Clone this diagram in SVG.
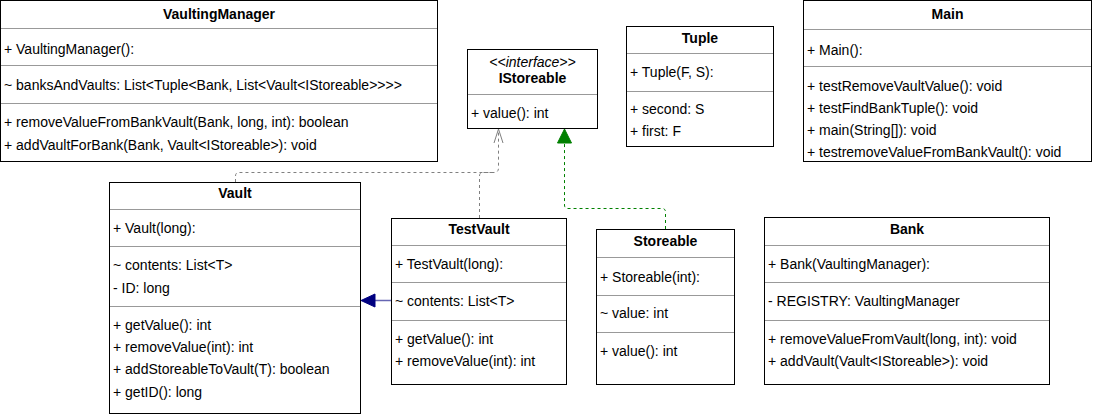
<svg xmlns="http://www.w3.org/2000/svg" width="1093" height="415" viewBox="0 0 1093 415">
<style>
text{font-family:"Liberation Sans",Arial,Helvetica,sans-serif;font-size:14px;fill:#000;dominant-baseline:central}
.t{font-weight:bold;text-anchor:middle}
.i{font-style:italic;text-anchor:middle}
.box{fill:#fff;stroke:#000;stroke-width:1}
.sep{stroke:#999;stroke-width:1}
.dg{fill:none;stroke:#808080;stroke-width:1;stroke-dasharray:3 3}
.dgr{fill:none;stroke:#008000;stroke-width:1;stroke-dasharray:3 3}
</style>
<defs>
<marker id="open" markerWidth="16" markerHeight="12" refX="15" refY="6" orient="auto" markerUnits="userSpaceOnUse" viewBox="0 0 16 12"><path d="M1,1.5 L15,6 L1,10.5" fill="none" stroke="#808080" stroke-width="1"/></marker>
</defs>
<rect width="1093" height="415" fill="#fff"/>
<g id="VaultingManager">
<rect class="box" x="0.5" y="0.5" width="437" height="161"/>
<line class="sep" x1="1" y1="28.5" x2="437" y2="28.5"/>
<line class="sep" x1="1" y1="65.5" x2="437" y2="65.5"/>
<line class="sep" x1="1" y1="103.5" x2="437" y2="103.5"/>
<text class="t" x="219" y="14">VaultingManager</text>
<text x="4" y="49">+ VaultingManager():</text>
<text x="4" y="85">~ banksAndVaults: List&lt;Tuple&lt;Bank, List&lt;Vault&lt;IStoreable&gt;&gt;&gt;&gt;</text>
<text x="4" y="122">+ removeValueFromBankVault(Bank, long, int): boolean</text>
<text x="4" y="145">+ addVaultForBank(Bank, Vault&lt;IStoreable&gt;): void</text>
</g>
<g id="IStoreable">
<rect class="box" x="467.5" y="49.5" width="130" height="79"/>
<line class="sep" x1="468" y1="94.5" x2="597" y2="94.5"/>
<text class="i" x="532.5" y="62">&lt;&lt;interface&gt;&gt;</text>
<text class="t" x="532.5" y="78">IStoreable</text>
<text x="471" y="113">+ value(): int</text>
</g>
<g id="Tuple">
<rect class="box" x="626.5" y="26.5" width="147" height="120"/>
<line class="sep" x1="627" y1="53.5" x2="773" y2="53.5"/>
<line class="sep" x1="627" y1="91.5" x2="773" y2="91.5"/>
<text class="t" x="700" y="38">Tuple</text>
<text x="630" y="72">+ Tuple(F, S):</text>
<text x="630" y="109">+ second: S</text>
<text x="630" y="131">+ first: F</text>
</g>
<g id="Main">
<rect class="box" x="803.5" y="0.5" width="288" height="161"/>
<line class="sep" x1="804" y1="29.5" x2="1091" y2="29.5"/>
<line class="sep" x1="804" y1="66.5" x2="1091" y2="66.5"/>
<text class="t" x="947.5" y="14">Main</text>
<text x="807" y="50">+ Main():</text>
<text x="807" y="86">+ testRemoveVaultValue(): void</text>
<text x="807" y="108">+ testFindBankTuple(): void</text>
<text x="807" y="130">+ main(String[]): void</text>
<text x="807" y="152">+ testremoveValueFromBankVault(): void</text>
</g>
<g id="Vault">
<rect class="box" x="109.5" y="182.5" width="251" height="231"/>
<line class="sep" x1="110" y1="209.5" x2="360" y2="209.5"/>
<line class="sep" x1="110" y1="246.5" x2="360" y2="246.5"/>
<line class="sep" x1="110" y1="306.5" x2="360" y2="306.5"/>
<text class="t" x="235" y="193">Vault</text>
<text x="113" y="228">+ Vault(long):</text>
<text x="113" y="265">~ contents: List&lt;T&gt;</text>
<text x="113" y="288">- ID: long</text>
<text x="113" y="325">+ getValue(): int</text>
<text x="113" y="347">+ removeValue(int): int</text>
<text x="113" y="369">+ addStoreableToVault(T): boolean</text>
<text x="113" y="392">+ getID(): long</text>
</g>
<g id="TestVault">
<rect class="box" x="391.5" y="218.5" width="175" height="166"/>
<line class="sep" x1="392" y1="245.5" x2="566" y2="245.5"/>
<line class="sep" x1="392" y1="282.5" x2="566" y2="282.5"/>
<line class="sep" x1="392" y1="320.5" x2="566" y2="320.5"/>
<text class="t" x="479" y="229">TestVault</text>
<text x="395" y="264">+ TestVault(long):</text>
<text x="395" y="301">~ contents: List&lt;T&gt;</text>
<text x="395" y="339">+ getValue(): int</text>
<text x="395" y="361">+ removeValue(int): int</text>
</g>
<g id="Storeable">
<rect class="box" x="596.5" y="229.5" width="138" height="155"/>
<line class="sep" x1="597" y1="257.5" x2="734" y2="257.5"/>
<line class="sep" x1="597" y1="295.5" x2="734" y2="295.5"/>
<line class="sep" x1="597" y1="332.5" x2="734" y2="332.5"/>
<text class="t" x="665.5" y="241">Storeable</text>
<text x="600" y="277">+ Storeable(int):</text>
<text x="600" y="313">~ value: int</text>
<text x="600" y="351">+ value(): int</text>
</g>
<g id="Bank">
<rect class="box" x="764.5" y="217.5" width="285" height="167"/>
<line class="sep" x1="765" y1="245.5" x2="1049" y2="245.5"/>
<line class="sep" x1="765" y1="282.5" x2="1049" y2="282.5"/>
<line class="sep" x1="765" y1="320.5" x2="1049" y2="320.5"/>
<text class="t" x="907" y="229">Bank</text>
<text x="768" y="264">+ Bank(VaultingManager):</text>
<text x="768" y="301">- REGISTRY: VaultingManager</text>
<text x="768" y="339">+ removeValueFromVault(long, int): void</text>
<text x="768" y="361">+ addVault(Vault&lt;IStoreable&gt;): void</text>
</g>
<g id="connectors">
<path class="dg" d="M235.5,182 L235.5,176 Q235.5,172.5 239,172.5 L494,172.5 Q498.5,172.5 498.5,168 L498.5,129" marker-end="url(#open)"/>
<path class="dg" d="M479.5,218 L479.5,176 Q479.5,172.5 483,172.5 L494,172.5"/>
<path class="dgr" d="M665.5,229 L665.5,212 Q665.5,208.5 662,208.5 L568,208.5 Q564.5,208.5 564.5,205 L564.5,143"/>
<path d="M564.5,129 L571.5,143 L557.5,143 Z" fill="#008000" stroke="#008000"/>
<line x1="391" y1="300.5" x2="375" y2="300.5" stroke="#6666b3" stroke-width="1.5"/>
<path d="M361,300.5 L375,294 L375,307 Z" fill="#000080" stroke="#000080"/>
</g>
</svg>
